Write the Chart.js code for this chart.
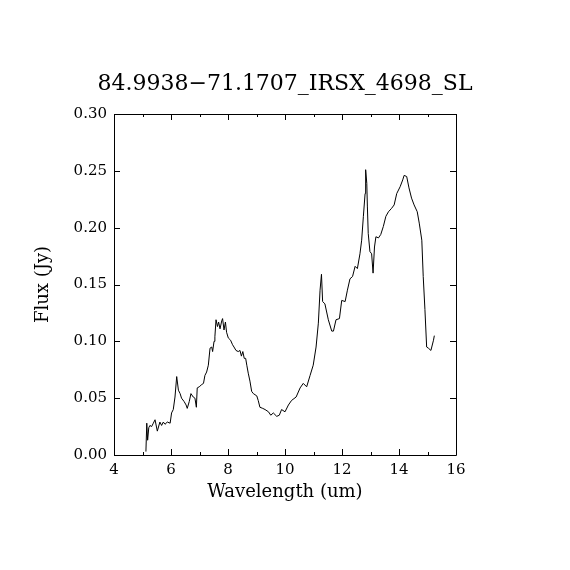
<!DOCTYPE html>
<html>
<head>
<meta charset="utf-8">
<script src="https://cdn.jsdelivr.net/npm/chart.js@4.4.0/dist/chart.umd.min.js"></script>
<style>
  html, body { margin: 0; padding: 0; background: #fff; }
</style>
</head>
<body>
<canvas id="spectrum" width="570" height="570"></canvas>
<script>
const title = "84.9938−71.1707_IRSX_4698_SL";

// spectrum: wavelength (um) and flux (Jy)
const wavelength = [
  5.12, 5.15, 5.18, 5.22, 5.26, 5.32, 5.38, 5.44, 5.52, 5.61, 5.67, 5.73, 5.79, 5.87, 5.97,
  6.02, 6.08, 6.14, 6.20, 6.26, 6.32, 6.37, 6.46, 6.53, 6.57, 6.64, 6.70, 6.78, 6.84, 6.89,
  6.92, 6.99, 7.08, 7.14, 7.19, 7.25, 7.31, 7.37, 7.43, 7.46, 7.51, 7.54, 7.58, 7.63, 7.67,
  7.72, 7.78, 7.81, 7.86, 7.91, 7.95, 8.01, 8.09, 8.16, 8.21, 8.28, 8.36, 8.42, 8.47, 8.52,
  8.57, 8.62, 8.66, 8.71, 8.77, 8.83, 8.89, 9.01, 9.06, 9.12, 9.22, 9.30, 9.42, 9.50, 9.59,
  9.71, 9.80, 9.88, 10.00, 10.12, 10.23, 10.39, 10.53, 10.64, 10.76, 10.88, 10.99, 11.09,
  11.17, 11.23, 11.28, 11.32, 11.40, 11.52, 11.64, 11.70, 11.79, 11.91, 11.99, 12.11, 12.19,
  12.28, 12.37, 12.46, 12.54, 12.63, 12.69, 12.75, 12.81, 12.83, 12.87, 12.89, 12.92, 12.98,
  13.04, 13.09, 13.14, 13.19, 13.28, 13.36, 13.45, 13.54, 13.63, 13.74, 13.83, 13.92, 14.04,
  14.13, 14.18, 14.27, 14.35, 14.44, 14.53, 14.64, 14.71, 14.80, 14.85, 14.91, 14.97, 15.03,
  15.12, 15.21, 15.24
];
const flux = [
  0.003, 0.028, 0.013, 0.024, 0.026, 0.025, 0.028, 0.031, 0.021, 0.029, 0.026, 0.029, 0.027, 0.029, 0.028,
  0.037, 0.040, 0.051, 0.069, 0.057, 0.054, 0.050, 0.047, 0.044, 0.041, 0.047, 0.054, 0.051, 0.050, 0.042,
  0.059, 0.060, 0.062, 0.063, 0.070, 0.073, 0.079, 0.094, 0.095, 0.091, 0.100, 0.104, 0.119, 0.113, 0.117,
  0.111, 0.118, 0.120, 0.110, 0.117, 0.108, 0.103, 0.101, 0.097, 0.095, 0.092, 0.091, 0.092, 0.087, 0.091,
  0.085, 0.085, 0.079, 0.072, 0.065, 0.056, 0.054, 0.052, 0.048, 0.042, 0.041, 0.040, 0.038, 0.035, 0.037,
  0.034, 0.035, 0.040, 0.038, 0.044, 0.048, 0.051, 0.059, 0.063, 0.060, 0.070, 0.079, 0.095,
  0.116, 0.145, 0.159, 0.135, 0.133, 0.119, 0.109, 0.109, 0.119, 0.120, 0.136, 0.135, 0.145,
  0.155, 0.157, 0.166, 0.164, 0.177, 0.189, 0.210, 0.230, 0.251, 0.239, 0.219, 0.195, 0.179,
  0.177, 0.160, 0.183, 0.192, 0.191, 0.194, 0.201, 0.210, 0.214, 0.217, 0.220, 0.230, 0.236,
  0.242, 0.246, 0.245, 0.235, 0.226, 0.220, 0.214, 0.204, 0.189, 0.157, 0.128, 0.095, 0.094,
  0.092, 0.101, 0.105
];

const xMajorTicks = [4, 6, 8, 10, 12, 14, 16];
const xMinorTicks = [5, 7, 9, 11, 13, 15];
const yMajorTicks = [0, 0.05, 0.10, 0.15, 0.20, 0.25, 0.30];

const serif = "'DejaVu Serif', serif";

// PGPLOT style frame: box on all four sides, ticks pointing inward
const inwardTicks = {
  id: "inwardTicks",
  afterDraw(chart) {
    const { ctx, chartArea: a, scales: { x, y } } = chart;
    ctx.save();
    ctx.strokeStyle = "#000";
    ctx.lineWidth = 1;
    ctx.beginPath();
    const xTick = (v, len) => {
      const px = Math.round(x.getPixelForValue(v)) + 0.5;
      ctx.moveTo(px, a.bottom); ctx.lineTo(px, a.bottom - len);
      ctx.moveTo(px, a.top); ctx.lineTo(px, a.top + len);
    };
    xMajorTicks.forEach(v => xTick(v, 6));
    xMinorTicks.forEach(v => xTick(v, 3));
    yMajorTicks.forEach(v => {
      const py = Math.round(y.getPixelForValue(v)) + 0.5;
      ctx.moveTo(a.left, py); ctx.lineTo(a.left + 6, py);
      ctx.moveTo(a.right, py); ctx.lineTo(a.right - 6, py);
    });
    ctx.rect(Math.round(a.left) + 0.5, Math.round(a.top) + 0.5,
             Math.round(a.right - a.left), Math.round(a.bottom - a.top));
    ctx.stroke();
    ctx.restore();
  }
};

new Chart(document.getElementById("spectrum"), {
  type: "scatter",
  data: {
    datasets: [{
      data: wavelength.map((w, i) => ({ x: w, y: flux[i] })),
      showLine: true,
      borderColor: "#000",
      borderWidth: 1,
      pointRadius: 0,
      tension: 0,
    }],
  },
  options: {
    responsive: false,
    animation: false,
    devicePixelRatio: 1,
    layout: { padding: 0 },
    plugins: {
      legend: { display: false },
      tooltip: { enabled: false },
      title: {
        display: true,
        text: title,
        color: "#000",
        font: { family: serif, size: 22, weight: "normal", lineHeight: 1.2 },
        padding: { top: 71, bottom: 16.6 },
      },
    },
    scales: {
      x: {
        type: "linear",
        min: 4,
        max: 16,
        afterFit: (s) => { s.height = 115; },
        afterBuildTicks: (s) => { s.ticks = xMajorTicks.map(v => ({ value: v })); },
        grid: { display: false, drawTicks: false },
        border: { display: false },
        ticks: { color: "#000", padding: 6, maxRotation: 0, font: { family: serif, size: 15 } },
        title: {
          display: true,
          text: "Wavelength (um)",
          color: "#000",
          font: { family: serif, size: 18 },
          padding: { top: 0, bottom: 67 },
        },
      },
      y: {
        min: 0,
        max: 0.3,
        afterFit: (s) => { s.width = 114; },
        afterBuildTicks: (s) => { s.ticks = yMajorTicks.map(v => ({ value: v })); },
        grid: { display: false, drawTicks: false },
        border: { display: false },
        ticks: {
          color: "#000",
          padding: 7,
          font: { family: serif, size: 15 },
          callback: (v) => v.toFixed(2),
        },
        title: {
          display: true,
          text: "Flux (Jy)",
          color: "#000",
          font: { family: serif, size: 18 },
          padding: { top: 33, bottom: 0 },
        },
      },
      // empty right-hand axis that only reserves the margin, so the title centres over the plot
      yRight: {
        position: "right",
        min: 0,
        max: 0.3,
        afterFit: (s) => { s.width = 114; },
        grid: { display: false, drawTicks: false },
        border: { display: false },
        ticks: { display: false },
      },
    },
  },
  plugins: [inwardTicks],
});
</script>
</body>
</html>
